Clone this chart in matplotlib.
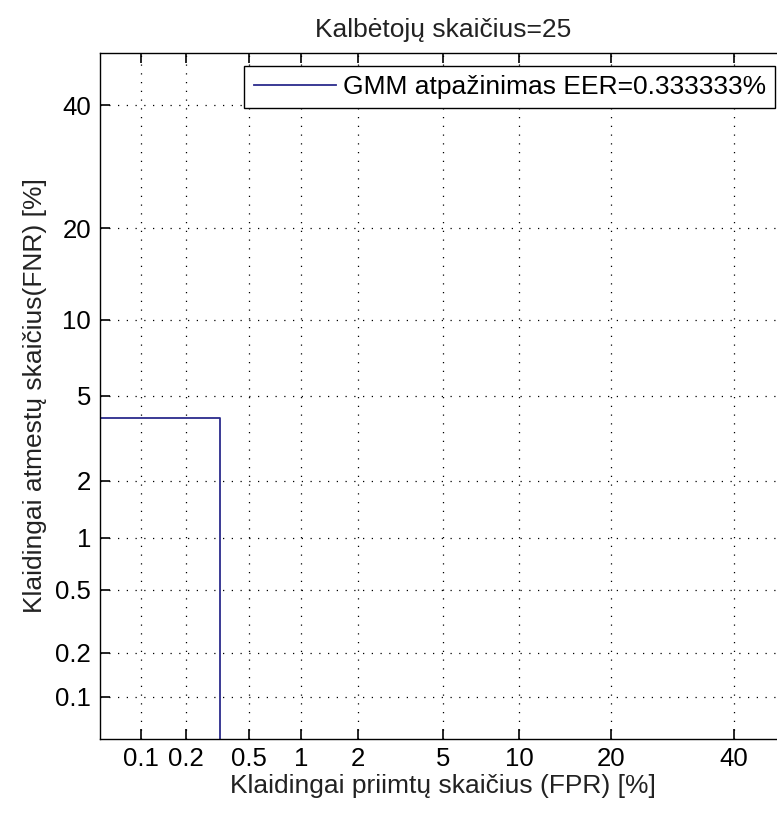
import numpy as np
import matplotlib
matplotlib.use("Agg")
import matplotlib.pyplot as plt
from statistics import NormalDist

# DET kreivės duomenys (procentais)
fpr_pct = [0.001, 0.3333, 0.3333]
fnr_pct = [4.0, 4.0, 0.001]
legend_label = "GMM atpažinimas EER=0.333333%"

tick_vals = [0.1, 0.2, 0.5, 1, 2, 5, 10, 20, 40]
tick_labels = ["0.1", "0.2", "0.5", "1", "2", "5", "10", "20", "40"]
lim_pct = (0.05, 50)

_nd = NormalDist()


def probit(x):
    x = np.asarray(x, dtype=float)
    p = np.clip(x / 100.0, 1e-9, 1 - 1e-9)
    return np.vectorize(_nd.inv_cdf, otypes=[float])(p)


def inv_probit(z):
    z = np.asarray(z, dtype=float)
    return np.vectorize(_nd.cdf, otypes=[float])(z) * 100.0


plt.rcParams['font.family'] = ['Liberation Sans', 'DejaVu Sans']
FS = 19

fig = plt.figure(figsize=(7.77, 8.14), dpi=100)
ax = fig.add_axes([0.1281, 0.0925, 0.8848, 0.8428])

ax.set_xscale('function', functions=(probit, inv_probit))
ax.set_yscale('function', functions=(probit, inv_probit))

ax.plot(fpr_pct, fnr_pct, color='#2b2b8c', linewidth=1.3, label=legend_label)

ax.set_xlim(*lim_pct)
ax.set_ylim(*lim_pct)
ax.set_xticks(tick_vals)
ax.set_xticklabels(tick_labels)
ax.set_yticks(tick_vals)
ax.set_yticklabels(tick_labels)
ax.minorticks_off()

ax.grid(True, color='black', linestyle=(0, (1, 6)), linewidth=0.9)
ax.tick_params(direction='in', length=7, width=1.2, top=True, right=True,
               labelsize=FS - 0.5, pad=6, colors='black')
for s in ax.spines.values():
    s.set_linewidth(1.0)

ax.set_title("Kalbėtojų skaičius=25", fontsize=FS, pad=11, color='#222222')
ax.set_xlabel("Klaidingai priimtų skaičius (FPR) [%]", fontsize=FS,
              labelpad=2, color='#222222')
ax.set_ylabel("Klaidingai atmestų skaičius(FNR) [%]", fontsize=FS,
              labelpad=6, color='#222222')

leg = ax.legend(loc='upper right', bbox_to_anchor=(0.9825, 0.9806),
                borderaxespad=0, fancybox=False, framealpha=1,
                edgecolor='black', fontsize=FS, handlelength=3.1,
                handletextpad=0.27, borderpad=0.35)
leg.get_frame().set_linewidth(1.0)

plt.savefig("out.png", dpi=100)
plt.close()
